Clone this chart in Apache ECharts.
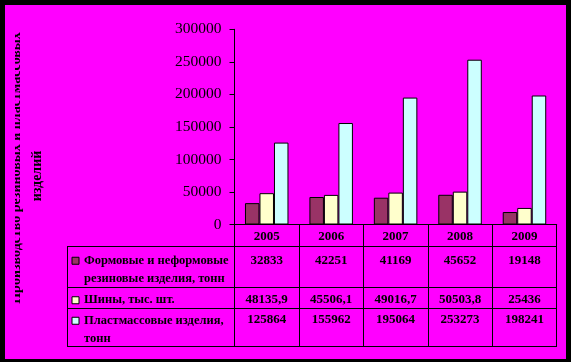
<!DOCTYPE html>
<html>
<head>
<meta charset="utf-8">
<script src="https://cdn.jsdelivr.net/npm/echarts@6/dist/echarts.min.js"></script>
<style>html,body{margin:0;padding:0;background:#000;}#c{width:571px;height:362px;}</style>
</head>
<body>
<div id="c"></div>
<script>
var years = ['2005', '2006', '2007', '2008', '2009'];
var seriesNames = ['Формовые и неформовые резиновые изделия, тонн', 'Шины, тыс. шт.', 'Пластмассовые изделия, тонн'];
var legendLines = [
  ['Формовые и неформовые', 'резиновые изделия, тонн'],
  ['Шины, тыс. шт.'],
  ['Пластмассовые изделия,', 'тонн']
];
var rubber = [32833, 42251, 41169, 45652, 19148];
var tyres = [48135.9, 45506.1, 49016.7, 50503.8, 25436];
var plastics = [125864, 155962, 195064, 253273, 198241];
var colors = ['#993366', '#FFFFCC', '#CCFFFF'];
var yTitle1 = 'Производство резиновых и пластмассовых';
var yTitle2 = 'изделий';

var FONT = 'Liberation Serif, Times New Roman, serif';
var allData = [rubber, tyres, plastics];
function fmt(v) { return String(v).replace('.', ','); }

var chart = echarts.init(document.getElementById('c'));

var legends = [];
var legendTops = [233, 291, 293];
for (var i = 0; i < 3; i++) {
  (function (idx) {
    legends.push({
      left: 71.5,
      top: legendTops[idx],
      padding: 0,
      orient: 'vertical',
      icon: 'rect',
      itemWidth: 7,
      itemHeight: 7,
      selectedMode: false,
      data: [seriesNames[idx]],
      itemStyle: { color: colors[idx], borderColor: '#000', borderWidth: 1 },
      formatter: function () {
        var l = legendLines[idx];
        return l.length > 1 ? ' \n' + l.join('\n') : l[0];
      },
      textStyle: { fontFamily: FONT, fontWeight: 'bold', fontSize: 12.5, lineHeight: 18.5, color: '#000' }
    });
  })(i);
}

var series = allData.map(function (d, i) {
  return {
    name: seriesNames[i],
    type: 'bar',
    data: d,
    barWidth: 14.5,
    barGap: '0%',
    itemStyle: { color: colors[i], borderColor: '#000', borderWidth: 1 },
    emphasis: { disabled: true }
  };
});

var option = {
  backgroundColor: '#000',
  animation: false,
  legend: legends,
  grid: { left: 234.5, right: 14.3, top: 29.3, bottom: 137.5, containLabel: false },
  xAxis: {
    type: 'category',
    data: years,
    axisLine: { lineStyle: { color: '#000', width: 1 } },
    axisTick: { show: true, length: 122, lineStyle: { color: '#000', width: 1 } },
    axisLabel: {
      interval: 0,
      margin: 0,
      formatter: function (val, idx) {
        return '{y|' + val + '}\n{v|' + fmt(rubber[idx]) + '}\n{s| }\n{w|' + fmt(tyres[idx]) + '}\n{w|' + fmt(plastics[idx]) + '}';
      },
      rich: {
        y: { fontFamily: FONT, fontWeight: 'bold', fontSize: 13, lineHeight: 24, color: '#000' },
        v: { fontFamily: FONT, fontWeight: 'bold', fontSize: 13, lineHeight: 24, color: '#000' },
        s: { fontSize: 1, lineHeight: 17.5 },
        w: { fontFamily: FONT, fontWeight: 'bold', fontSize: 13, lineHeight: 20, color: '#000' }
      }
    },
    splitLine: { show: false }
  },
  yAxis: {
    type: 'value',
    min: 0,
    max: 300000,
    interval: 50000,
    axisLine: { show: true, lineStyle: { color: '#000', width: 1 } },
    axisTick: { show: true, length: 5, lineStyle: { color: '#000' } },
    axisLabel: { fontFamily: FONT, fontSize: 15.5, color: '#000', margin: 13, formatter: function (v) { return String(v); } },
    splitLine: { show: false }
  },
  graphic: [
    { type: 'rect', z: -10, shape: { x: 5, y: 5, width: 561, height: 354 }, style: { fill: '#FF00FF' } },
    { type: 'line', z: 10, shape: { x1: 67, y1: 246.5, x2: 557, y2: 246.5 }, style: { stroke: '#000', lineWidth: 1 } },
    { type: 'line', z: 10, shape: { x1: 67, y1: 287.5, x2: 557, y2: 287.5 }, style: { stroke: '#000', lineWidth: 1 } },
    { type: 'line', z: 10, shape: { x1: 67, y1: 308.5, x2: 557, y2: 308.5 }, style: { stroke: '#000', lineWidth: 1 } },
    { type: 'line', z: 10, shape: { x1: 67, y1: 346.5, x2: 557, y2: 346.5 }, style: { stroke: '#000', lineWidth: 1 } },
    { type: 'line', z: 10, shape: { x1: 67.5, y1: 246.5, x2: 67.5, y2: 346.5 }, style: { stroke: '#000', lineWidth: 1 } },
    { type: 'text', z: 10, x: 16, y: 168, rotation: Math.PI / 2,
      style: { text: yTitle1, font: 'bold 14px ' + FONT, fill: '#000', align: 'center', verticalAlign: 'middle' } },
    { type: 'rect', z: 11, shape: { x: 5, y: 10, width: 10, height: 320 }, style: { fill: '#FF00FF' } },
    { type: 'text', z: 10, x: 37, y: 176, rotation: Math.PI / 2,
      style: { text: yTitle2, font: 'bold 14px ' + FONT, fill: '#000', align: 'center', verticalAlign: 'middle' } }
  ],
  series: series
};
chart.setOption(option);
</script>
</body>
</html>
